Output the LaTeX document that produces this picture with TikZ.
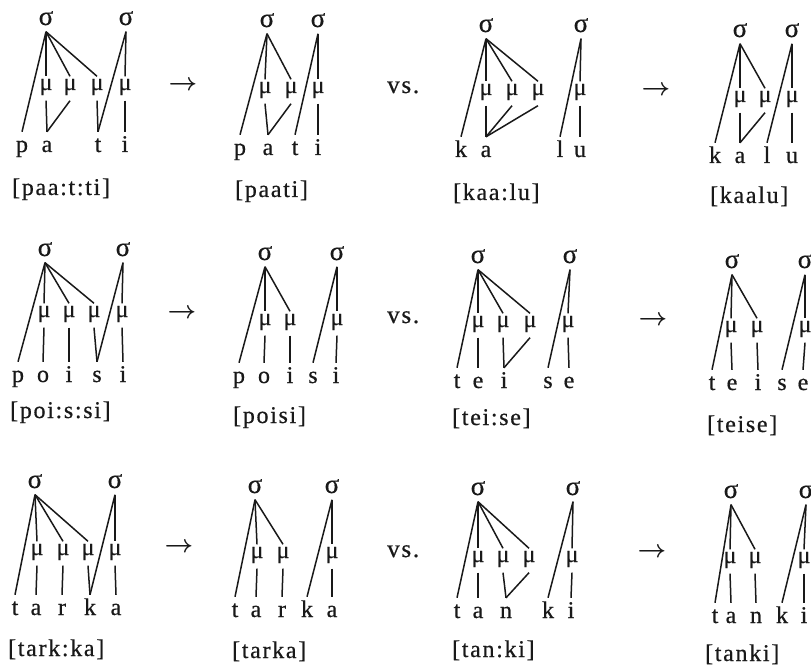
\documentclass[tikz,border=0pt]{standalone}
\usepackage{fontspec}
\setmainfont{Liberation Serif}[FakeBold=0.6]
\newfontfamily\grk{Liberation Serif}[FakeBold=0.6]
\newfontfamily\lblf{Liberation Serif}[LetterSpace=7,FakeBold=0.6]
\newcommand\edgeln[2]{\draw[link] (#1.south) -- (#2.north);}
\tikzset{
  syl/.style={font=\grk\fontsize{27}{30}\selectfont, anchor=base, text height=11pt, text depth=5pt, inner sep=1.5pt, text=black!90},
  mora/.style={font=\grk\fontsize{24}{28}\selectfont, anchor=base, text height=12pt, text depth=9pt, inner sep=1.5pt, text=black!90},
  seg/.style={font=\fontsize{24}{28}\selectfont, anchor=base, text height=18pt, text depth=0pt, inner sep=2pt, text=black!90},
  lbl/.style={font=\lblf\fontsize{24}{28}\selectfont, anchor=base west, inner sep=0pt, text=black!90},
  arr/.style={font=\fontsize{23}{26}\selectfont\boldmath, anchor=base, inner sep=0pt, text=black!90},
  vsl/.style={font=\lblf\fontsize{25}{28}\selectfont, anchor=base west, inner sep=0pt, text=black!90},
  link/.style={line width=1.5pt, draw=black!90}
}
\begin{document}
\begin{tikzpicture}[x=1pt,y=-1pt]
\useasboundingbox (0,0) rectangle (811,668);
\fill[white] (0,0) rectangle (811,668);
% arrows and vs.
\node[arr] (r1a) at (183,91) {$\rightarrow$};
\node[arr] (r1b) at (656,96) {$\rightarrow$};
\node[arr] (r2a) at (182,318) {$\rightarrow$};
\node[arr] (r2b) at (653,326) {$\rightarrow$};
\node[arr] (r3a) at (179,552) {$\rightarrow$};
\node[arr] (r3b) at (652,557) {$\rightarrow$};
\node[vsl] (v1) at (387,93) {vs.};
\node[vsl] (v2) at (387,323) {vs.};
\node[vsl] (v3) at (387,557) {vs.};
% ---------- Panel A
\node[syl] (As1) at (46,25) {σ};
\node[syl] (As2) at (126,25) {σ};
\node[mora] (Am1) at (46,90) {μ};
\node[mora] (Am2) at (70,90) {μ};
\node[mora] (Am3) at (97,90) {μ};
\node[mora] (Am4) at (125,90) {μ};
\node[seg] (Ap) at (22,152) {p};
\node[seg] (Aa) at (47,152) {a};
\node[seg] (At) at (98,152) {t};
\node[seg] (Ai) at (125,152) {i};
\node[lbl] (AL) at (12,195) {[paa:t:ti]};
\edgeln{As1}{Ap}\edgeln{As1}{Am1}\edgeln{As1}{Am2}\edgeln{As1}{Am3}
\edgeln{Am1}{Aa}\edgeln{Am2}{Aa}\edgeln{As2}{At}\edgeln{Am3}{At}
\edgeln{As2}{Am4}\edgeln{Am4}{Ai}
% ---------- Panel B
\node[syl] (Bs1) at (267,27) {σ};
\node[syl] (Bs2) at (318,27) {σ};
\node[mora] (Bm1) at (265,93) {μ};
\node[mora] (Bm2) at (291,93) {μ};
\node[mora] (Bm3) at (318,93) {μ};
\node[seg] (Bp) at (240,155) {p};
\node[seg] (Ba) at (268,155) {a};
\node[seg] (Bt) at (295,155) {t};
\node[seg] (Bi) at (318,155) {i};
\node[lbl] (BL) at (235,197) {[paati]};
\edgeln{Bs1}{Bp}\edgeln{Bs1}{Bm1}\edgeln{Bs1}{Bm2}
\edgeln{Bm1}{Ba}\edgeln{Bm2}{Ba}\edgeln{Bs2}{Bt}\edgeln{Bs2}{Bm3}\edgeln{Bm3}{Bi}
% ---------- Panel C
\node[syl] (Cs1) at (486,32) {σ};
\node[syl] (Cs2) at (581,32) {σ};
\node[mora] (Cm1) at (486,95) {μ};
\node[mora] (Cm2) at (512,95) {μ};
\node[mora] (Cm3) at (538,95) {μ};
\node[mora] (Cm4) at (580,95) {μ};
\node[seg] (Ck) at (461,157) {k};
\node[seg] (Ca) at (486,157) {a};
\node[seg] (Cl) at (560,157) {l};
\node[seg] (Cu) at (580,157) {u};
\node[lbl] (CL) at (453,200) {[kaa:lu]};
\edgeln{Cs1}{Ck}\edgeln{Cs1}{Cm1}\edgeln{Cs1}{Cm2}\edgeln{Cs1}{Cm3}
\edgeln{Cm1}{Ca}\edgeln{Cm2}{Ca}\edgeln{Cm3}{Ca}
\edgeln{Cs2}{Cl}\edgeln{Cs2}{Cm4}\edgeln{Cm4}{Cu}
% ---------- Panel D
\node[syl] (Ds1) at (740,37) {σ};
\node[syl] (Ds2) at (792,37) {σ};
\node[mora] (Dm1) at (740,102) {μ};
\node[mora] (Dm2) at (765,102) {μ};
\node[mora] (Dm3) at (792,102) {μ};
\node[seg] (Dk) at (715,163) {k};
\node[seg] (Da) at (740,163) {a};
\node[seg] (Dl) at (767,163) {l};
\node[seg] (Du) at (792,163) {u};
\node[lbl] (DL) at (710,203) {[kaalu]};
\edgeln{Ds1}{Dk}\edgeln{Ds1}{Dm1}\edgeln{Ds1}{Dm2}
\edgeln{Dm1}{Da}\edgeln{Dm2}{Da}\edgeln{Ds2}{Dl}\edgeln{Ds2}{Dm3}\edgeln{Dm3}{Du}
% ---------- Panel E
\node[syl] (Es1) at (45,256) {σ};
\node[syl] (Es2) at (123,256) {σ};
\node[mora] (Em1) at (44,317) {μ};
\node[mora] (Em2) at (69,317) {μ};
\node[mora] (Em3) at (94,317) {μ};
\node[mora] (Em4) at (122,317) {μ};
\node[seg] (Ep) at (18,382) {p};
\node[seg] (Eo) at (43,382) {o};
\node[seg] (Ei) at (69,382) {i};
\node[seg] (Es) at (97,382) {s};
\node[seg] (Ej) at (123,382) {i};
\node[lbl] (EL) at (10,418) {[poi:s:si]};
\edgeln{Es1}{Ep}\edgeln{Es1}{Em1}\edgeln{Es1}{Em2}\edgeln{Es1}{Em3}
\edgeln{Em1}{Eo}\edgeln{Em2}{Ei}\edgeln{Em3}{Es}
\edgeln{Es2}{Es}\edgeln{Es2}{Em4}\edgeln{Em4}{Ej}
% ---------- Panel F
\node[syl] (Fs1) at (265,260) {σ};
\node[syl] (Fs2) at (337,260) {σ};
\node[mora] (Fm1) at (265,325) {μ};
\node[mora] (Fm2) at (290,325) {μ};
\node[mora] (Fm3) at (337,325) {μ};
\node[seg] (Fp) at (239,383) {p};
\node[seg] (Fo) at (264,383) {o};
\node[seg] (Fi) at (290,383) {i};
\node[seg] (Fs) at (313,383) {s};
\node[seg] (Fj) at (336,383) {i};
\node[lbl] (FL) at (233,423) {[poisi]};
\edgeln{Fs1}{Fp}\edgeln{Fs1}{Fm1}\edgeln{Fs1}{Fm2}
\edgeln{Fm1}{Fo}\edgeln{Fm2}{Fi}\edgeln{Fs2}{Fs}\edgeln{Fs2}{Fm3}\edgeln{Fm3}{Fj}
% ---------- Panel G
\node[syl] (Gs1) at (478,263) {σ};
\node[syl] (Gs2) at (570,263) {σ};
\node[mora] (Gm1) at (478,327) {μ};
\node[mora] (Gm2) at (503,327) {μ};
\node[mora] (Gm3) at (530,327) {μ};
\node[mora] (Gm4) at (568,327) {μ};
\node[seg] (Gt) at (457,388) {t};
\node[seg] (Ge) at (478,388) {e};
\node[seg] (Gi) at (504,388) {i};
\node[seg] (Gs) at (548,388) {s};
\node[seg] (Gf) at (569,388) {e};
\node[lbl] (GL) at (452,425) {[tei:se]};
\edgeln{Gs1}{Gt}\edgeln{Gs1}{Gm1}\edgeln{Gs1}{Gm2}\edgeln{Gs1}{Gm3}
\edgeln{Gm1}{Ge}\edgeln{Gm2}{Gi}\edgeln{Gm3}{Gi}
\edgeln{Gs2}{Gs}\edgeln{Gs2}{Gm4}\edgeln{Gm4}{Gf}
% ---------- Panel H
\node[syl] (Hs1) at (732,268) {σ};
\node[syl] (Hs2) at (805,268) {σ};
\node[mora] (Hm1) at (731,332) {μ};
\node[mora] (Hm2) at (757,332) {μ};
\node[mora] (Hm3) at (805,332) {μ};
\node[seg] (Ht) at (712,390) {t};
\node[seg] (He) at (732,390) {e};
\node[seg] (Hi) at (758,390) {i};
\node[seg] (Hs) at (782,390) {s};
\node[seg] (Hf) at (803,390) {e};
\node[lbl] (HL) at (707,432) {[teise]};
\edgeln{Hs1}{Ht}\edgeln{Hs1}{Hm1}\edgeln{Hs1}{Hm2}
\edgeln{Hm1}{He}\edgeln{Hm2}{Hi}\edgeln{Hs2}{Hs}\edgeln{Hs2}{Hm3}\edgeln{Hm3}{Hf}
% ---------- Panel I
\node[syl] (Is1) at (35,488) {σ};
\node[syl] (Is2) at (115,488) {σ};
\node[mora] (Im1) at (37,555) {μ};
\node[mora] (Im2) at (63,555) {μ};
\node[mora] (Im3) at (88,555) {μ};
\node[mora] (Im4) at (115,555) {μ};
\node[seg] (It) at (15,615) {t};
\node[seg] (Ia) at (36,615) {a};
\node[seg] (Ir) at (62,615) {r};
\node[seg] (Ik) at (90,615) {k};
\node[seg] (Ib) at (116,615) {a};
\node[lbl] (IL) at (8,656) {[tark:ka]};
\edgeln{Is1}{It}\edgeln{Is1}{Im1}\edgeln{Is1}{Im2}\edgeln{Is1}{Im3}
\edgeln{Im1}{Ia}\edgeln{Im2}{Ir}\edgeln{Im3}{Ik}
\edgeln{Is2}{Ik}\edgeln{Is2}{Im4}\edgeln{Im4}{Ib}
% ---------- Panel J
\node[syl] (Js1) at (255,493) {σ};
\node[syl] (Js2) at (332,493) {σ};
\node[mora] (Jm1) at (257,558) {μ};
\node[mora] (Jm2) at (283,558) {μ};
\node[mora] (Jm3) at (332,558) {μ};
\node[seg] (Jt) at (235,617) {t};
\node[seg] (Ja) at (256,617) {a};
\node[seg] (Jr) at (282,617) {r};
\node[seg] (Jk) at (307,617) {k};
\node[seg] (Jb) at (332,617) {a};
\node[lbl] (JL) at (232,658) {[tarka]};
\edgeln{Js1}{Jt}\edgeln{Js1}{Jm1}\edgeln{Js1}{Jm2}
\edgeln{Jm1}{Ja}\edgeln{Jm2}{Jr}\edgeln{Js2}{Jk}\edgeln{Js2}{Jm3}\edgeln{Jm3}{Jb}
% ---------- Panel K
\node[syl] (Ks1) at (478,495) {σ};
\node[syl] (Ks2) at (573,495) {σ};
\node[mora] (Km1) at (478,562) {μ};
\node[mora] (Km2) at (503,562) {μ};
\node[mora] (Km3) at (529,562) {μ};
\node[mora] (Km4) at (572,562) {μ};
\node[seg] (Kt) at (457,618) {t};
\node[seg] (Ka) at (478,618) {a};
\node[seg] (Kn) at (506,618) {n};
\node[seg] (Kk) at (548,618) {k};
\node[seg] (Ki) at (571,618) {i};
\node[lbl] (KL) at (452,657) {[tan:ki]};
\edgeln{Ks1}{Kt}\edgeln{Ks1}{Km1}\edgeln{Ks1}{Km2}\edgeln{Ks1}{Km3}
\edgeln{Km1}{Ka}\edgeln{Km2}{Kn}\edgeln{Km3}{Kn}
\edgeln{Ks2}{Kk}\edgeln{Ks2}{Km4}\edgeln{Km4}{Ki}
% ---------- Panel L
\node[syl] (Ls1) at (731,498) {σ};
\node[syl] (Ls2) at (806,498) {σ};
\node[mora] (Lm1) at (730,563) {μ};
\node[mora] (Lm2) at (755,563) {μ};
\node[mora] (Lm3) at (804,563) {μ};
\node[seg] (Lt) at (715,623) {t};
\node[seg] (La) at (731,623) {a};
\node[seg] (Ln) at (756,623) {n};
\node[seg] (Lk) at (782,623) {k};
\node[seg] (Li) at (804,623) {i};
\node[lbl] (LL) at (705,661) {[tanki]};
\edgeln{Ls1}{Lt}\edgeln{Ls1}{Lm1}\edgeln{Ls1}{Lm2}
\edgeln{Lm1}{La}\edgeln{Lm2}{Ln}\edgeln{Ls2}{Lk}\edgeln{Ls2}{Lm3}\edgeln{Lm3}{Li}
\end{tikzpicture}
\end{document}
